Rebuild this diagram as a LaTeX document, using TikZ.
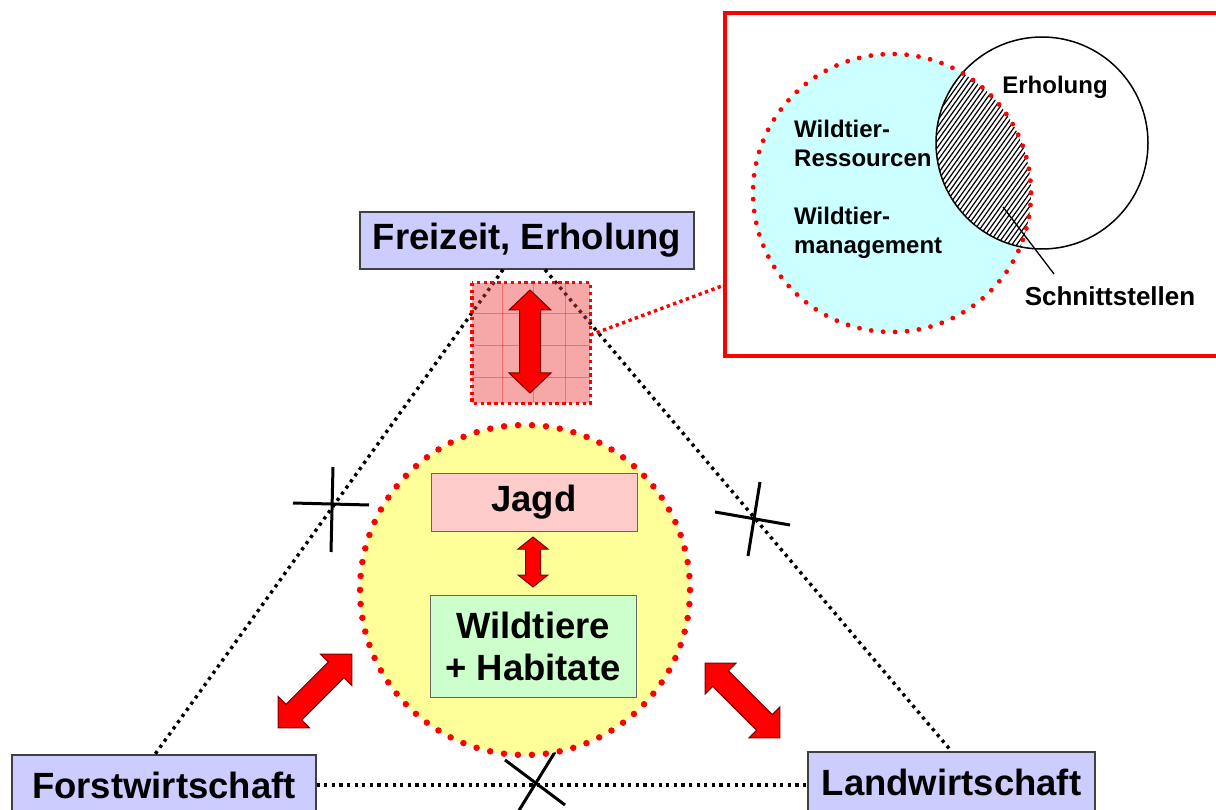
\documentclass[tikz,border=0pt]{standalone}
\usepackage{fontspec}
\setmainfont{Liberation Sans}
\definecolor{lav}{RGB}{204,204,255}
\definecolor{jagdpink}{RGB}{255,204,204}
\definecolor{wildgreen}{RGB}{204,255,204}
\definecolor{yel}{RGB}{255,255,153}
\definecolor{cyanfill}{RGB}{204,255,255}
\definecolor{sqred}{RGB}{235,60,60}
\definecolor{darkred}{RGB}{120,0,0}
\newcommand\DblArrow[7]{%
  \begin{scope}[shift={(#1,#2)}, rotate=#3]
    \draw[fill=red, draw=darkred, line width=1pt, line join=miter]
      (-#4,0) -- (-#4+#7,#6) -- (-#4+#7,#5) -- (#4-#7,#5) -- (#4-#7,#6) -- (#4,0)
      -- (#4-#7,-#6) -- (#4-#7,-#5) -- (-#4+#7,-#5) -- (-#4+#7,-#6) -- cycle;
  \end{scope}}
\begin{document}
\begin{tikzpicture}[x=1pt,y=-1pt,
  bigfont/.style={font=\bfseries\fontsize{36.5}{42}\selectfont},
  smallfont/.style={font=\bfseries\fontsize{24}{29}\selectfont},
  lbox/.style={draw=black!75, line width=1.3pt, fill=lav, inner sep=0pt, bigfont},
  blackdots/.style={line width=3.4pt, dash pattern=on 3.2pt off 4.4pt},
  crossline/.style={line width=3pt},
  reddots/.style={draw=red, line width=3.4pt, dash pattern=on 3.4pt off 3.4pt}]
\useasboundingbox (0,0) rectangle (1216,810);

% main boxes
\node[lbox, minimum width=334pt, minimum height=57pt] (fe) at (527,240.5) {Freizeit, Erholung};
\node[lbox, minimum width=304pt, minimum height=60pt] (fw) at (164,785) {Forstwirtschaft};
\node[lbox, minimum width=287pt, minimum height=60pt] (lw) at (951.5,782) {Landwirtschaft};

% dotted triangle
\coordinate (feL) at ([xshift=-24pt]fe.south);
\coordinate (feR) at ([xshift=18pt]fe.south);
\coordinate (fwN) at ([xshift=-9pt]fw.north);
\draw[blackdots] (feL) -- (fwN);
\draw[blackdots] (feR) -- (lw.north);
\draw[blackdots] (fw.east) -- (fw.east -| lw.west);

% crosses
\draw[crossline] (333,467) -- (331,552);
\draw[crossline] (293,503) -- (369,505);
\draw[crossline] (760,482) -- (748,556);
\draw[crossline] (715,512) -- (790,525);
\draw[crossline] (505,760) -- (565,805);
\draw[crossline] (555,752) -- (518,812);

% red square with double arrow
\node[fill=sqred, fill opacity=0.45, minimum width=118pt, minimum height=120pt, inner sep=0pt] (sq) at (531,343) {};
\foreach \gx in {502,533.5,565} \draw[red, line width=0.6pt, opacity=0.35] (\gx,284) -- (\gx,402);
\foreach \gy in {313,345,377} \draw[red, line width=0.6pt, opacity=0.35] (473,\gy) -- (589,\gy);
\draw[reddots] (sq.north west) rectangle (sq.south east);
\DblArrow{530}{341.5}{90}{51.5}{10.5}{21}{20}

% inset
\node[draw=red, line width=3.5pt, minimum width=505pt, minimum height=343pt, inner sep=0pt] (inset) at (977.5,184.5) {};
\draw[reddots] ([yshift=8pt]sq.east) -- ([yshift=-101pt]inset.west);

\node[circle, fill=cyanfill, minimum size=278pt, inner sep=0pt] (cc) at (892,193) {};
\begin{scope}
  \clip (892,193) circle[radius=139];
  \clip (1042,143) circle[radius=106];
  \fill[white] (900,0) rectangle (1100,300);
  \foreach \k in {0,...,52} \draw[line width=1.2pt] (785+\k*4.8,260) -- ++(150,-210);
\end{scope}
\node[circle, draw, line width=1.5pt, minimum size=212pt, inner sep=0pt] (wc) at (1042,143) {};
\draw[red, line width=4.8pt, line cap=round, dash pattern=on 0pt off 11.96pt] (cc.center) circle[radius=139];

\node[smallfont, anchor=base west, inner sep=0pt] (wr1) at (794,138) {Wildtier-};
\node[smallfont, anchor=base west, inner sep=0pt] (wr2) at (794,167) {Ressourcen};
\node[smallfont, anchor=base west, inner sep=0pt] (wm1) at (794,225) {Wildtier-};
\node[smallfont, anchor=base west, inner sep=0pt] (wm2) at (794,254) {management};
\node[smallfont, anchor=base, inner sep=0pt] (er) at (1055,94) {Erholung};
\node[font=\bfseries\fontsize{26}{30}\selectfont, anchor=base, inner sep=0pt] (sn) at (1110,306) {Schnittstellen};
\coordinate (hp) at (1003,207);
\draw[line width=1.3pt] (hp) -- ([xshift=-56pt,yshift=13pt]sn.north);

% yellow circle
\node[circle, fill=yel, draw=red, line width=6.5pt, line cap=round, dash pattern=on 0pt off 14.01pt, minimum size=330pt, inner sep=0pt] (jc) at (525,590) {};
\node[lbox, fill=jagdpink, draw=black!60, line width=1pt, minimum width=206pt, minimum height=58pt] (jagd) at (534,502) {Jagd};
\node[lbox, fill=wildgreen, draw=black!60, line width=1pt, minimum width=206pt, minimum height=102pt, align=center] (wh) at (533,646) {Wildtiere\\+ Habitate};
\DblArrow{533}{562}{90}{25}{7.5}{15}{12}

% diagonal arrows
\DblArrow{315}{691}{45}{52}{11}{22}{22}
\DblArrow{742.5}{700.5}{-45}{53}{11}{22}{22}
\end{tikzpicture}
\end{document}
